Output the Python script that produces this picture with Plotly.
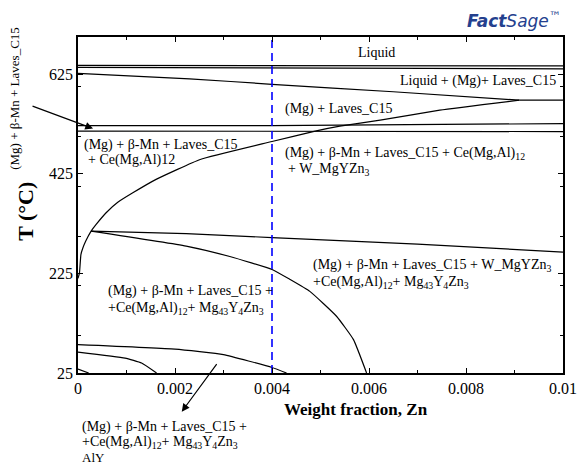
import plotly.graph_objects as go

# Phase boundaries, Mg-rich corner: weight fraction Zn vs temperature (deg C)
liq_x = [0.0, 0.01]
liq_T = [643, 642]

sol_x = [0.0, 0.01]
sol_T = [639, 636]

laves_x = [0.0, 0.0023, 0.004, 0.0065, 0.0091]
laves_T = [627, 616, 605, 590, 573]

laves_flat_x = [0.0091, 0.01]
laves_flat_T = [573, 573]

bmn_up_x = [0.0, 0.004, 0.01]
bmn_up_T = [522, 522, 526]

bmn_lo_x = [0.0, 0.01]
bmn_lo_T = [511, 510]

solvus_x = [0.0, 0.00003, 0.00006, 0.0001, 0.00016, 0.00027, 0.00037, 0.00058,
            0.00082, 0.00113, 0.00161, 0.00252, 0.004, 0.00489, 0.0054, 0.00623,
            0.00746, 0.0091]
solvus_T = [215, 226, 263, 276, 290, 310, 323, 347,
            368, 387, 414, 454, 490, 511, 521, 533,
            553, 573]

w_x = [0.00027, 0.00223, 0.004, 0.007, 0.01]
w_T = [310, 305, 297, 284, 268]

mg43_x = [0.00027, 0.00223, 0.00313, 0.004, 0.00437, 0.00478, 0.00533, 0.00568, 0.00595]
mg43_T = [310, 280, 259, 233, 213, 189, 139, 92, 25]

low1_x = [0.0, 0.002, 0.003, 0.004, 0.0043]
low1_T = [82, 73, 62, 36, 25]

low2_x = [0.0, 0.00097, 0.00131, 0.00162]
low2_T = [67, 55, 45, 25]

low3_x = [0.0, 0.00022]
low3_T = [33, 25]

section_x = 0.004

boundaries = [
    (liq_x, liq_T), (sol_x, sol_T), (laves_x, laves_T), (laves_flat_x, laves_flat_T),
    (bmn_up_x, bmn_up_T), (bmn_lo_x, bmn_lo_T), (solvus_x, solvus_T),
    (w_x, w_T), (mg43_x, mg43_T), (low1_x, low1_T), (low2_x, low2_T), (low3_x, low3_T),
]

SERIF = "Liberation Serif, Times New Roman, serif"

fig = go.Figure()
for bx, bT in boundaries:
    fig.add_trace(go.Scatter(x=bx, y=bT, mode="lines",
                             line=dict(color="black", width=1.2, shape="spline", smoothing=0.4),
                             hoverinfo="skip", showlegend=False))

fig.add_trace(go.Scatter(x=[section_x, section_x], y=[25, 700], mode="lines",
                         line=dict(color="#0000ff", width=1.6, dash="8px,5px"),
                         hoverinfo="skip", showlegend=False))

axis_common = dict(showline=True, linecolor="black", linewidth=1.5, mirror="allticks",
                   ticks="inside", ticklen=5, tickcolor="black", tickwidth=1,
                   showgrid=False, zeroline=False, automargin=False,
                   tickfont=dict(family=SERIF, size=16, color="black"))

fig.update_xaxes(range=[0, 0.01], tick0=0, dtick=0.002,
                 minor=dict(dtick=0.001, ticks="inside", ticklen=3, tickcolor="black"),
                 **axis_common)
fig.update_yaxes(range=[25, 700], tick0=25, dtick=200,
                 minor=dict(dtick=100, ticks="inside", ticklen=3, tickcolor="black"),
                 **axis_common)

fs = 14


def label(x, y, text, xanchor="left", xref="x", yref="y", size=fs):
    fig.add_annotation(x=x, y=y, xref=xref, yref=yref, text=text, showarrow=False,
                       xanchor=xanchor, yanchor="middle",
                       font=dict(family=SERIF, size=size, color="black"))


label(0.00616, 669, "Liquid", xanchor="center")
label(0.0066, 611, "Liquid + (Mg)+ Laves_C15")
label(0.00423, 555, "(Mg) + Laves_C15")
label(0.00423, 466, "(Mg) + β-Mn + Laves_C15 + Ce(Mg,Al)<sub>12</sub>")
label(0.00429, 434, "+ W_MgYZn<sub>3</sub>")
label(0.00008, 484, "(Mg) + β-Mn + Laves_C15")
label(0.00016, 452, "+ Ce(Mg,Al)12")
label(0.00058, 189, "(Mg) + β-Mn + Laves_C15 +")
label(0.00058, 154, "+Ce(Mg,Al)<sub>12</sub>+ Mg<sub>43</sub>Y<sub>4</sub>Zn<sub>3</sub>")
label(0.0048, 240, "(Mg) + β-Mn + Laves_C15 + W_MgYZn<sub>3</sub>")
label(0.0048, 207, "+Ce(Mg,Al)<sub>12</sub>+ Mg<sub>43</sub>Y<sub>4</sub>Zn<sub>3</sub>")

# labels for regions too thin to write in, placed below the frame
label(0.004, -0.162, "(Mg) + β-Mn + Laves_C15 +", xref="paper", yref="paper")
label(0.004, -0.207, "+Ce(Mg,Al)<sub>12</sub>+ Mg<sub>43</sub>Y<sub>4</sub>Zn<sub>3</sub>",
      xref="paper", yref="paper")
label(0.004, -0.25, "AlY", xref="paper", yref="paper", size=13)

fig.add_annotation(x=-0.13, y=0.819, xref="paper", yref="paper",
                   text="(Mg) + β-Mn + Laves_C15", textangle=-90, showarrow=False,
                   xanchor="center", yanchor="middle",
                   font=dict(family=SERIF, size=13, color="black"))

# pointer arrows
fig.add_annotation(x=0.00031, y=516, ax=-62, ay=-23, text="", showarrow=True,
                   arrowhead=2, arrowsize=1.3, arrowwidth=1.2, arrowcolor="black")
fig.add_annotation(x=0.00214, y=-0.115, xref="x", yref="paper", ax=36, ay=-49,
                   text="", showarrow=True,
                   arrowhead=2, arrowsize=1.3, arrowwidth=1.2, arrowcolor="black")

# axis titles
fig.add_annotation(x=0.42, y=-0.11, xref="paper", yref="paper",
                   text="<b>Weight fraction, Zn</b>", showarrow=False,
                   xanchor="left", yanchor="middle",
                   font=dict(family=SERIF, size=17, color="black"))
fig.add_annotation(x=-0.107, y=0.48, xref="paper", yref="paper",
                   text="<b>T (°C)</b>", textangle=-90, showarrow=False,
                   xanchor="center", yanchor="middle",
                   font=dict(family=SERIF, size=22, color="black"))

# software mark
fig.add_annotation(x=1.0, y=1.05, xref="paper", yref="paper",
                   text="<b><i>Fact</i></b><i>Sage</i><sup>™</sup>", showarrow=False,
                   xanchor="right", yanchor="middle",
                   font=dict(family="DejaVu Sans, sans-serif", size=17, color="#24408e"))

fig.update_layout(width=579, height=465, autosize=False,
                  margin=dict(l=78, r=16, t=37, b=92),
                  paper_bgcolor="white", plot_bgcolor="white")

fig.write_html("out.html")
